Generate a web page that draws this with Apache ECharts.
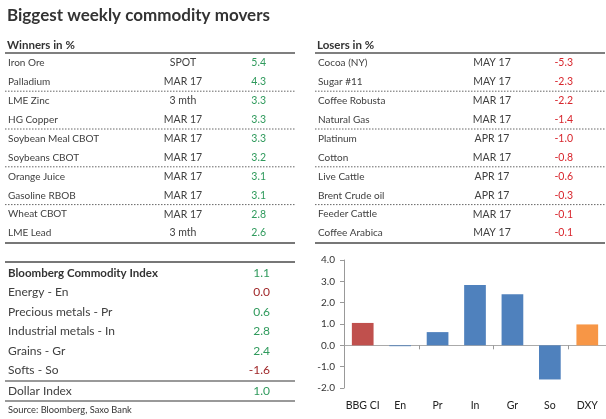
<!DOCTYPE html>
<html><head><meta charset="utf-8">
<script src="https://cdn.jsdelivr.net/npm/echarts@6/dist/echarts.min.js"></script>
<style>html,body{margin:0;padding:0;background:#fff}#c{width:606px;height:419px}</style>
</head><body><div id="c"></div>
<script>
const titleText = 'Biggest weekly commodity movers';
const winnersTitle = 'Winners in %';
const losersTitle = 'Losers in %';
const winnerNames = ['Iron Ore','Palladium','LME Zinc','HG Copper','Soybean Meal CBOT','Soybeans CBOT','Orange Juice','Gasoline RBOB','Wheat CBOT','LME Lead'];
const winnerMonths = ['SPOT','MAR 17','3 mth','MAR 17','MAR 17','MAR 17','MAR 17','MAR 17','MAR 17','3 mth'];
const winnerValues = ['5.4','4.3','3.3','3.3','3.3','3.2','3.1','3.1','2.8','2.6'];
const loserNames = ['Cocoa (NY)','Sugar #11','Coffee Robusta','Natural Gas','Platinum','Cotton','Live Cattle','Brent Crude oil','Feeder Cattle','Coffee Arabica'];
const loserMonths = ['MAY 17','MAY 17','MAR 17','MAR 17','APR 17','MAR 17','APR 17','APR 17','MAR 17','MAY 17'];
const loserValues = ['-5.3','-2.3','-2.2','-1.4','-1.0','-0.8','-0.6','-0.3','-0.1','-0.1'];
const indexNames = ['Bloomberg Commodity Index','Energy - En','Precious metals - Pr','Industrial metals - In','Grains - Gr','Softs - So','Dollar Index'];
const indexValues = ['1.1','0.0','0.6','2.8','2.4','-1.6','1.0'];
const sourceText = 'Source: Bloomberg, Saxo Bank';
const barCategories = ['BBG CI','En','Pr','In','Gr','So','DXY'];
const barValues = [1.05, -0.04, 0.62, 2.83, 2.4, -1.6, 0.98];

const TXT = '#404040', GREEN = '#2f9a5c', RED = '#d8262d', DRED = '#a0282a';
const FONT = 'Lato, "Liberation Sans", sans-serif';
const barColors = ['#c0504d','#4f81bd','#4f81bd','#4f81bd','#4f81bd','#4f81bd','#f79646'];

const g = [];
function txt(t, x, y, opts) {
  g.push({type:'text', silent:true, style:Object.assign({text:t, x:x, y:y, fill:TXT, font:'11px ' + FONT, align:'left', verticalAlign:'middle'}, opts||{})});
}
function line(x1, y1, x2, y2, stroke, w, dash) {
  g.push({type:'line', silent:true, shape:{x1:x1,y1:y1,x2:x2,y2:y2}, style:{stroke:stroke, lineWidth:w, lineDash:dash||null}});
}
txt(titleText, 7, 16, {font:'bold 17px ' + FONT, fill:'#333'});

function moverTable(x0, x1, title, names, months, values, monthX, valX, color) {
  txt(title, x0 + 2, 45, {font:'bold 11.5px ' + FONT, fill:'#333'});
  line(x0, 53, x1, 53, '#555', 1.5);
  for (let i = 0; i < names.length; i++) {
    const y = 63 + i * 18.9;
    txt(names[i], x0 + 3, y, {font:'10px ' + FONT});
    txt(months[i], monthX, y, {align:'center', font:'10.5px ' + FONT});
    txt(values[i], valX, y, {align:'right', fill:color, font:'10.5px ' + FONT});
    if (i % 2 === 1 && i < names.length - 1) line(x0, y + 9.3, x1, y + 9.3, '#666', 1, [1.5, 1.5]);
  }
  line(x0, 243, x1, 243, '#777', 2);
}
moverTable(5, 295, winnersTitle, winnerNames, winnerMonths, winnerValues, 183, 266, GREEN);
moverTable(315, 605, losersTitle, loserNames, loserMonths, loserValues, 492, 573, RED);

line(5, 262, 295, 262, '#777', 2);
const idxY = [273, 292.5, 312, 331.5, 351, 370.5, 391];
for (let i = 0; i < indexNames.length; i++) {
  const v = parseFloat(indexValues[i]);
  const col = (i === 1) ? DRED : (v < 0 ? DRED : GREEN);
  txt(indexNames[i], 8, idxY[i], {font:(i === 0 ? 'bold 11.5px ' : '12px ') + FONT, fill: i === 0 ? '#333' : TXT});
  txt(indexValues[i], 270, idxY[i], {font:'12px ' + FONT, align:'right', fill:col});
}
line(5, 381, 295, 381, '#777', 1.5);
line(5, 401, 295, 401, '#777', 1.5);
txt(sourceText, 8, 410, {font:'9.3px ' + FONT, fill:'#333'});

const chart = echarts.init(document.getElementById('c'), null, {renderer:'canvas'});
chart.setOption({
  animation:false,
  backgroundColor:'#fff',
  grid:{left:344, top:260, width:263, height:128, containLabel:false},
  xAxis:[
    {type:'category', data:barCategories, position:'bottom',
     axisLine:{onZero:true, lineStyle:{color:'#aaa', width:1}},
     axisTick:{show:true, length:4, lineStyle:{color:'#999'}},
     axisLabel:{show:false}},
    {type:'category', data:barCategories, position:'bottom',
     axisLine:{show:false, onZero:false}, axisTick:{show:false},
     axisLabel:{show:true, interval:0, color:'#222', fontFamily:FONT, fontSize:10.5, margin:12}}
  ],
  yAxis:{type:'value', min:-2, max:4, interval:1,
    axisLine:{show:true, lineStyle:{color:'#999'}},
    axisTick:{show:true, inside:false, length:4, lineStyle:{color:'#999'}},
    splitLine:{show:false},
    axisLabel:{color:'#333', fontFamily:FONT, fontSize:10, margin:9, formatter:v => v.toFixed(1)}},
  series:[{type:'bar', xAxisIndex:0, barWidth:'58%',
    data:barValues.map((v,i)=>({value:v, itemStyle:{color:barColors[i]}}))}],
  graphic:g
});
</script></body></html>
